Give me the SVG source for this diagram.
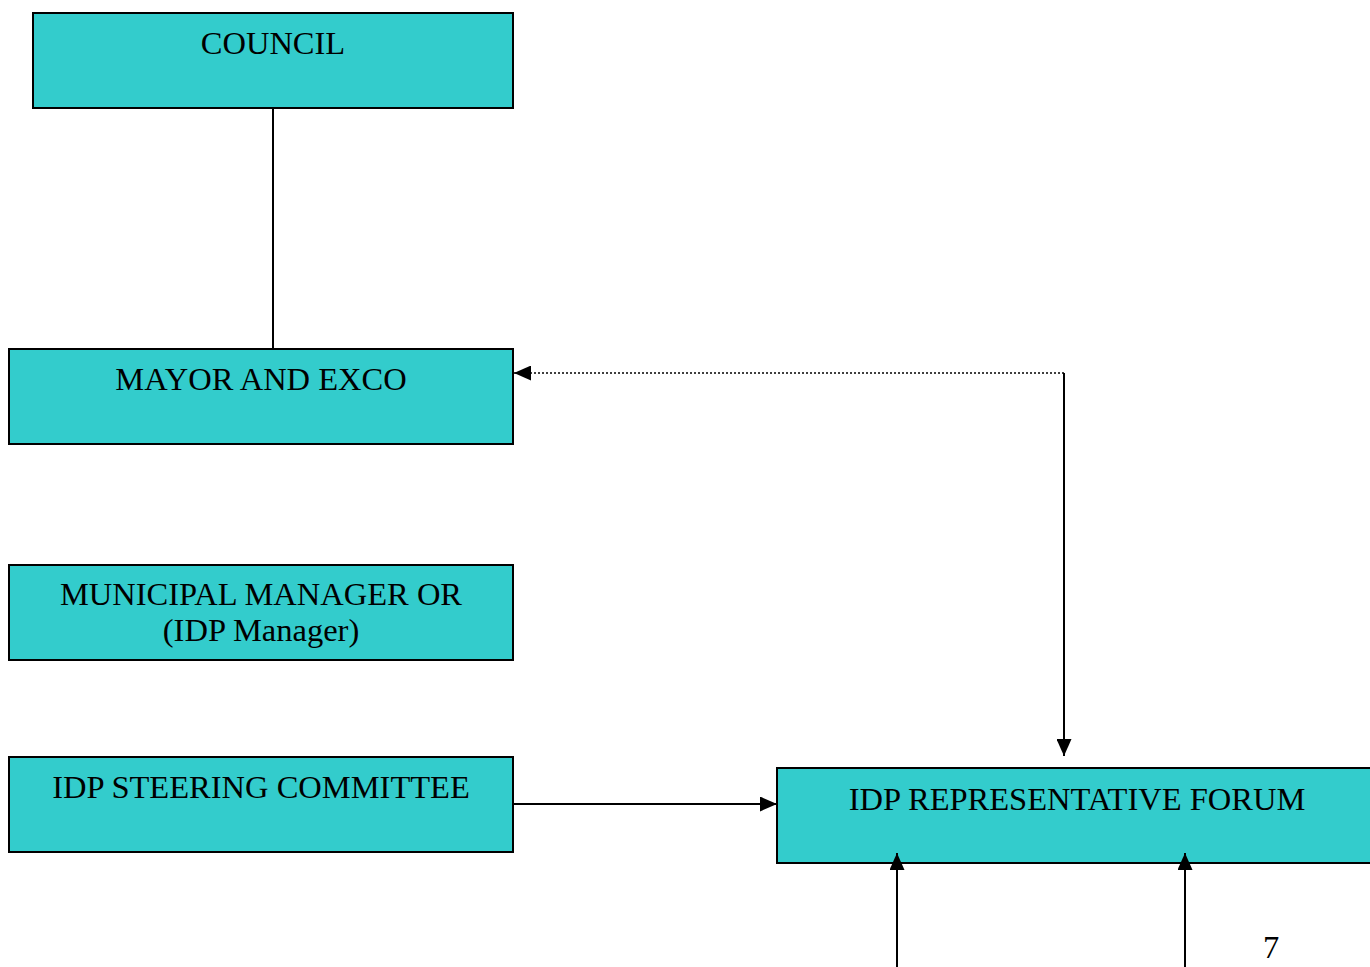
<svg xmlns="http://www.w3.org/2000/svg" width="1370" height="967" viewBox="0 0 1370 967">
<style>
.box{fill:#33CCCC;stroke:#000;stroke-width:2}
.t{font-family:"Liberation Serif","Times New Roman",serif;font-size:32.5px;fill:#000;text-anchor:middle}
.c{stroke:#000;stroke-width:2;fill:none}
.d{stroke:#000;stroke-width:1.5;fill:none;stroke-dasharray:2 2}
</style>
<defs>
<marker id="ah2" markerWidth="17" markerHeight="15" refX="17" refY="7.5" orient="auto" markerUnits="userSpaceOnUse" viewBox="0 0 17 15">
<path d="M0,0 L17,7.5 L0,15 Z" fill="#000"/>
</marker>
</defs>
<rect width="1370" height="967" fill="#fff"/>
<g id="council"><rect class="box" x="33" y="13" width="480" height="95"/><text class="t" x="273" y="54">COUNCIL</text></g>
<g id="mayor"><rect class="box" x="9" y="349" width="504" height="95"/><text class="t" x="261" y="390">MAYOR AND EXCO</text></g>
<g id="manager"><rect class="box" x="9" y="565" width="504" height="95"/><text class="t" x="261" y="605">MUNICIPAL MANAGER OR</text><text class="t" x="261" y="641">(IDP Manager)</text></g>
<g id="steering"><rect class="box" x="9" y="757" width="504" height="95"/><text class="t" x="261" y="798">IDP STEERING COMMITTEE</text></g>
<g id="forum"><rect class="box" x="777" y="768" width="600" height="95"/><text class="t" x="1077" y="810">IDP REPRESENTATIVE FORUM</text></g>
<g id="connectors">
<line class="c" x1="273" y1="108" x2="273" y2="349"/>
<path class="d" d="M1064,373 L514,373" marker-end="url(#ah2)"/>
<path class="c" d="M1064,373 L1064,756" marker-end="url(#ah2)"/>
<path class="c" d="M514,804 L777,804" marker-end="url(#ah2)"/>
<path class="c" d="M897,967 L897,853" marker-end="url(#ah2)"/>
<path class="c" d="M1185,967 L1185,853" marker-end="url(#ah2)"/>
</g>
<text x="1271" y="958" style="font-family:'Liberation Serif','Times New Roman',serif;font-size:32.5px;fill:#000" text-anchor="middle">7</text>
</svg>
